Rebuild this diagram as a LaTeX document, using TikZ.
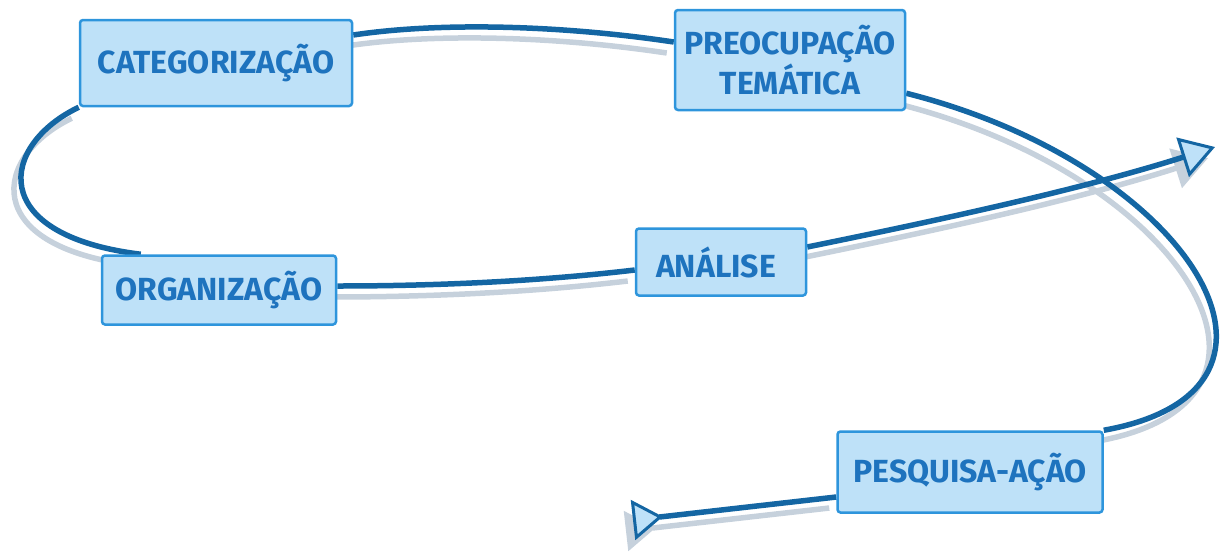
\documentclass[tikz,border=0pt]{standalone}
\usepackage{fontspec}
\setmainfont{Fira Sans}
\usetikzlibrary{arrows.meta,calc}
\definecolor{linec}{HTML}{1466A3}
\definecolor{boxfill}{HTML}{BEE1F8}
\definecolor{boxline}{HTML}{2E95DC}
\definecolor{txt}{HTML}{1E73BE}
\definecolor{shade}{HTML}{C6D1DC}
\pgfdeclarelayer{bg}
\pgfsetlayers{bg,main}
\begin{document}
\begin{tikzpicture}[x=1pt,y=-1pt,
  stage/.style={draw=boxline, fill=boxfill, line width=2.5pt, rounded corners=3pt,
    inner sep=0pt, align=center, text=txt,
    font=\fontsize{32}{38}\selectfont\bfseries},
  conn/.style={draw=linec, line width=5.5pt},
  shadowline/.style={draw=shade, line width=5.5pt, transform canvas={shift={(-7,11)}}},
]
\useasboundingbox (0,0) rectangle (1225,552);

% stages of the cycle
\node[stage, minimum width=272pt, minimum height=86pt] (cat)  at (216,63)  {CATEGORIZAÇÃO};
\node[stage, minimum width=230pt, minimum height=100pt] (pre) at (790,60)  {PREOCUPAÇÃO\\TEMÁTICA};
\node[stage, minimum width=234pt, minimum height=69pt] (org)  at (219,290) {ORGANIZAÇÃO};
\node[stage, minimum width=170pt, minimum height=67pt] (ana)  at (721,262) {ANÁLISE\hspace*{10pt}};
\node[stage, minimum width=265pt, minimum height=81pt] (pesq) at (970,472) {PESQUISA-AÇÃO};

% free ends of the spiral
\coordinate (tail) at (633,520);
\coordinate (head) at (1215,147);

% spiral: a grey shadow pass, then the blue line on top
\begin{pgfonlayer}{bg}
\foreach \s/\f in {shadowline/shade, conn/boxfill}{
  \draw[\s, -{Triangle[reversed, length=30pt, width=40pt, fill=\f, line width=3pt]}]
    ($(pesq.west)+(0,25)$) -- (tail);
  \draw[\s] (pesq.north east) .. controls (1330,390) and (1190,165) .. ($(pre.south east)+(0,-18)$);
  \draw[\s] ($(pre.west)+(0,-18)$) .. controls (560,25) and (440,22) .. ($(cat.east)+(0,-28)$);
  \draw[\s] (cat.south west) .. controls (0,145) and (-15,235) .. ($(org.north west)+(40,0)$);
  \draw[\s] ($(org.east)+(0,-4)$) .. controls (450,286) and (550,280) .. ($(ana.west)+(0,8)$);
  \draw[\s, -{Triangle[length=34pt, width=41pt, fill=\f, line width=3pt]}]
    ($(ana.east)+(0,-15)$) .. controls (930,222) and (1080,190) .. (head);
}
\end{pgfonlayer}
\end{tikzpicture}
\end{document}
